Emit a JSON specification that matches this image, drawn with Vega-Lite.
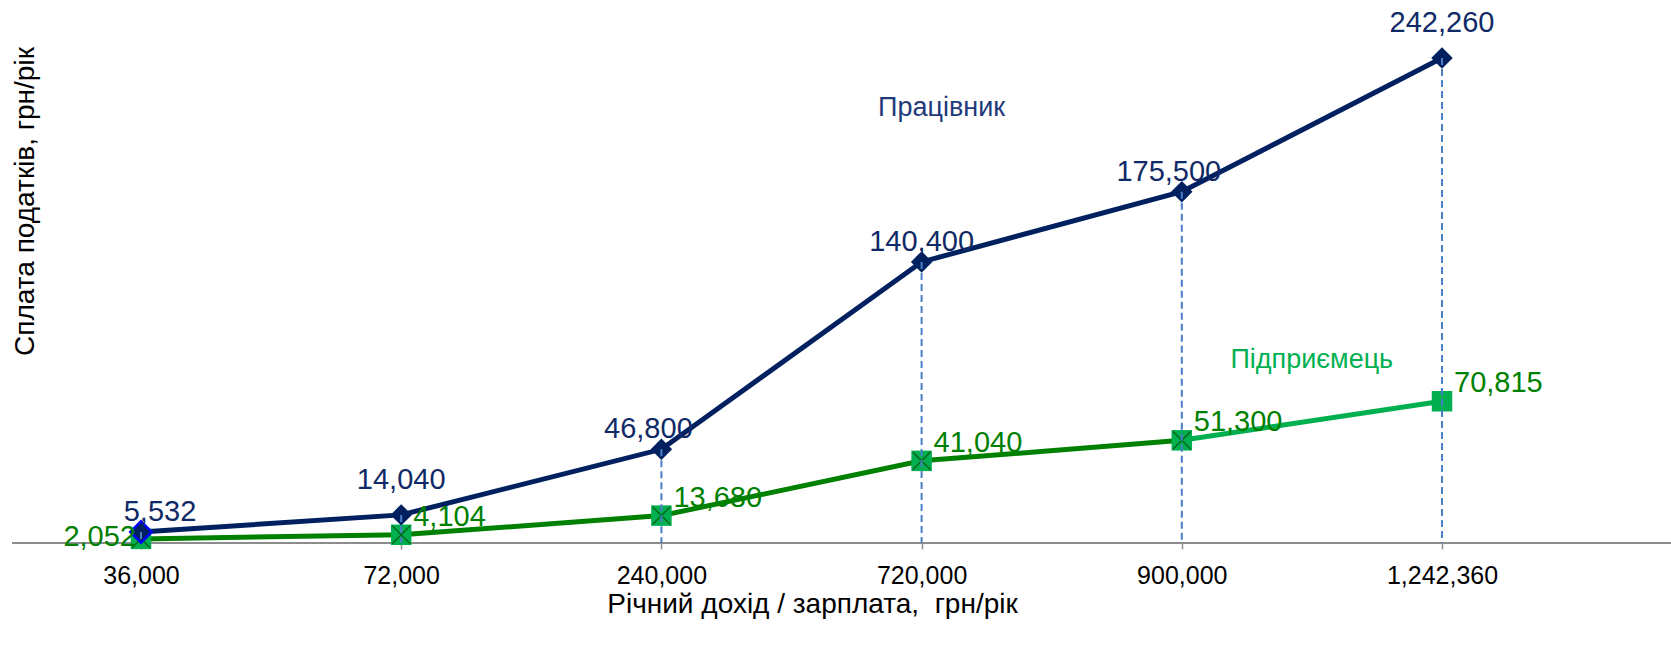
{
  "$schema": "https://vega.github.io/schema/vega-lite/v6.json",
  "width": 1659,
  "height": 543,
  "autosize": {"type": "none"},
  "padding": {"left": 12, "top": 0, "right": 0, "bottom": 113},
  "background": "white",
  "config": {
    "view": {"stroke": null},
    "font": "Liberation Sans"
  },
  "datasets": {
    "pts": [
      {"x": "36,000", "s": "Працівник", "v": 5532},
      {"x": "72,000", "s": "Працівник", "v": 14040},
      {"x": "240,000", "s": "Працівник", "v": 46800},
      {"x": "720,000", "s": "Працівник", "v": 140400},
      {"x": "900,000", "s": "Працівник", "v": 175500},
      {"x": "1,242,360", "s": "Працівник", "v": 242260},
      {"x": "36,000", "s": "Підприємець", "v": 2052},
      {"x": "72,000", "s": "Підприємець", "v": 4104},
      {"x": "240,000", "s": "Підприємець", "v": 13680},
      {"x": "720,000", "s": "Підприємець", "v": 41040},
      {"x": "900,000", "s": "Підприємець", "v": 51300},
      {"x": "1,242,360", "s": "Підприємець", "v": 70815}
    ],
    "notes": [
      {"x": "720,000", "v": 217300, "label": "Працівник"},
      {"x": "900,000", "v": 91400, "label": "Підприємець"}
    ]
  },
  "data": {"name": "pts"},
  "encoding": {
    "x": {
      "field": "x",
      "type": "ordinal",
      "sort": ["36,000", "72,000", "240,000", "720,000", "900,000", "1,242,360"],
      "scale": {"type": "point", "range": [129, 1430], "padding": 0},
      "axis": {
        "title": "Річний дохід / зарплата,\u00a0 грн/рік",
        "domain": false,
        "ticks": true,
        "tickColor": "#909090",
        "tickSize": 6,
        "tickWidth": 1.5,
        "labelAngle": 0,
        "labelFontSize": 25,
        "labelColor": "#000000",
        "labelPadding": 14,
        "titleFontSize": 28,
        "titleFontWeight": "normal",
        "titleColor": "#000000",
        "titleX": 800,
        "titleY": 61,
        "titleBaseline": "middle",
        "titleAlign": "center"
      }
    },
    "y": {
      "field": "v",
      "type": "quantitative",
      "scale": {"domain": [0, 271250], "nice": false, "zero": true},
      "axis": {
        "title": "Сплата податків, грн/рік",
        "domain": false,
        "ticks": false,
        "labels": false,
        "grid": false,
        "titleFontSize": 28,
        "titleFontWeight": "normal",
        "titleColor": "#000000",
        "titleAngle": -90,
        "titleX": 13,
        "titleY": 201,
        "titleAlign": "center",
        "titleBaseline": "middle"
      }
    }
  },
  "layer": [
    {
      "mark": {"type": "rule", "color": "#8c8c8c", "strokeWidth": 1.5},
      "encoding": {"x": null, "y": {"datum": 0}}
    },
    {
      "transform": [{"filter": "datum.s === 'Підприємець' && datum.x !== '1,242,360'"}],
      "mark": {"type": "line", "color": "#008000", "strokeWidth": 5}
    },
    {
      "transform": [{"filter": "datum.s === 'Підприємець' && (datum.x === '900,000' || datum.x === '1,242,360')"}],
      "mark": {"type": "line", "color": "#00B050", "strokeWidth": 5}
    },
    {
      "transform": [{"filter": "datum.s === 'Працівник'"}],
      "mark": {"type": "line", "color": "#002060", "strokeWidth": 5}
    },
    {
      "transform": [{"filter": "datum.s === 'Підприємець'"}],
      "mark": {"type": "point", "shape": "square", "size": 420, "filled": true, "color": "#00B050", "opacity": 1}
    },
    {
      "transform": [{"filter": "datum.s === 'Підприємець' && datum.x !== '1,242,360'"}],
      "mark": {"type": "point", "shape": "M-1,-1L1,1M1,-1L-1,1", "size": 320, "filled": false, "color": "#006a1a", "strokeWidth": 1.5, "opacity": 1}
    },
    {
      "transform": [{"filter": "datum.s === 'Працівник'"}],
      "mark": {"type": "point", "shape": "diamond", "size": 460, "filled": true, "color": "#002060", "opacity": 1}
    },
    {
      "transform": [{"filter": "datum.s === 'Працівник' && datum.x === '36,000'"}],
      "mark": {"type": "point", "shape": "diamond", "size": 460, "filled": false, "color": "#0000ff", "strokeWidth": 2.5, "opacity": 1}
    },
    {
      "transform": [{"filter": "datum.s === 'Працівник'"}],
      "mark": {"type": "rule", "color": "#4a7ec7", "strokeWidth": 2, "strokeDash": [7, 4]},
      "encoding": {"y2": {"datum": 0}}
    },
    {
      "transform": [{"filter": "datum.s === 'Працівник' && datum.x === '36,000'"}],
      "mark": {"type": "text", "fontSize": 29, "color": "#0f2a66", "align": "center", "baseline": "alphabetic", "dx": 19, "dy": -11},
      "encoding": {"text": {"field": "v", "type": "quantitative", "format": ","}}
    },
    {
      "transform": [{"filter": "datum.s === 'Працівник' && (datum.x === '240,000' || datum.x === '900,000')"}],
      "mark": {"type": "text", "fontSize": 29, "color": "#0f2a66", "align": "center", "baseline": "alphabetic", "dx": -13, "dy": -11},
      "encoding": {"text": {"field": "v", "type": "quantitative", "format": ","}}
    },
    {
      "transform": [{"filter": "datum.s === 'Працівник' && datum.x === '720,000'"}],
      "mark": {"type": "text", "fontSize": 29, "color": "#0f2a66", "align": "center", "baseline": "alphabetic", "dy": -11},
      "encoding": {"text": {"field": "v", "type": "quantitative", "format": ","}}
    },
    {
      "transform": [{"filter": "datum.s === 'Працівник' && (datum.x === '72,000' || datum.x === '1,242,360')"}],
      "mark": {"type": "text", "fontSize": 29, "color": "#0f2a66", "align": "center", "baseline": "alphabetic", "dy": -26},
      "encoding": {"text": {"field": "v", "type": "quantitative", "format": ","}}
    },
    {
      "transform": [{"filter": "datum.s === 'Підприємець' && datum.x === '36,000'"}],
      "mark": {"type": "text", "fontSize": 29, "color": "#008000", "align": "right", "baseline": "alphabetic", "dx": -5, "dy": 7},
      "encoding": {"text": {"field": "v", "type": "quantitative", "format": ","}}
    },
    {
      "transform": [{"filter": "datum.s === 'Підприємець' && datum.x !== '36,000'"}],
      "mark": {"type": "text", "fontSize": 29, "color": "#008000", "align": "left", "baseline": "alphabetic", "dx": 12, "dy": -9},
      "encoding": {"text": {"field": "v", "type": "quantitative", "format": ","}}
    },
    {
      "data": {"name": "notes"},
      "transform": [{"filter": "datum.label === 'Працівник'"}],
      "mark": {"type": "text", "fontSize": 27, "color": "#1f3a7a", "align": "center", "baseline": "middle", "dx": 20},
      "encoding": {"text": {"field": "label"}}
    },
    {
      "data": {"name": "notes"},
      "transform": [{"filter": "datum.label === 'Підприємець'"}],
      "mark": {"type": "text", "fontSize": 27, "color": "#00B050", "align": "center", "baseline": "middle", "dx": 130},
      "encoding": {"text": {"field": "label"}}
    }
  ]
}
